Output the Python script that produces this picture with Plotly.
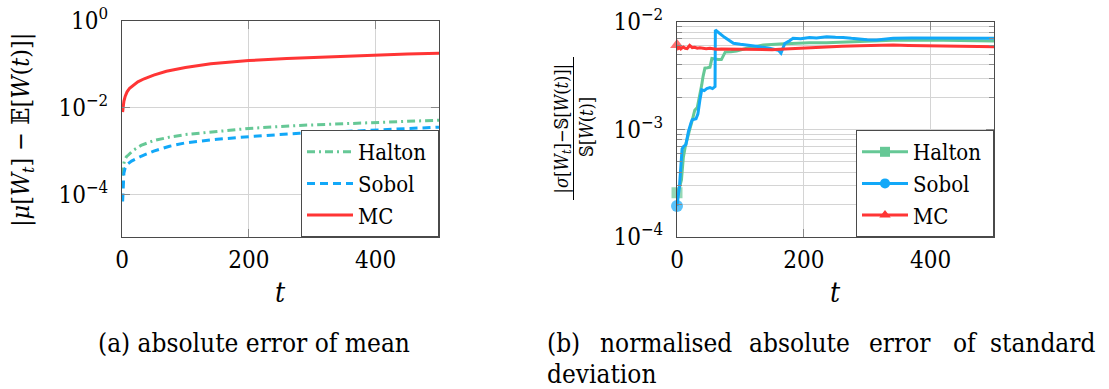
import plotly.graph_objects as go

W, H = 1109, 389

# ---------------- data: (a) absolute error of mean ----------------
t_mc_a = [1, 2, 3, 5, 8, 12, 18, 25, 35, 50, 70, 100, 140, 200, 260, 330, 400, 450, 500]
mc_a = [0.0081, 0.0115, 0.0142, 0.0185, 0.0235, 0.0285, 0.034, 0.040, 0.047, 0.057,
        0.070, 0.085, 0.104, 0.123, 0.138, 0.152, 0.166, 0.174, 0.182]

t_halton_a = [1, 2, 4, 7, 10, 18, 30, 50, 75, 100, 150, 200, 280, 350, 420, 500]
halton_a = [2.8e-4, 4.5e-4, 6.3e-4, 7.6e-4, 8.3e-4, 1.07e-3, 1.38e-3, 1.78e-3, 2.14e-3,
            2.45e-3, 2.88e-3, 3.39e-3, 3.98e-3, 4.37e-3, 4.79e-3, 5.25e-3]

t_sobol_a = [1, 2, 3, 5, 8, 15, 30, 50, 75, 100, 150, 200, 280, 350, 420, 500]
sobol_a = [7.1e-5, 1.78e-4, 3.16e-4, 4.17e-4, 5.01e-4, 6.03e-4, 7.76e-4, 1.02e-3, 1.32e-3,
           1.58e-3, 1.91e-3, 2.19e-3, 2.63e-3, 2.88e-3, 3.24e-3, 3.63e-3]

# ---------------- data: (b) normalised abs. error of std ----------------
t_halton_b = [0, 4, 7, 10, 13, 16, 20, 23, 26, 28, 32, 36, 39, 41, 44, 48, 52, 55, 60, 65,
              70, 76, 85, 94, 110, 136, 162, 188, 209, 236, 262, 288, 315, 340, 393, 446, 500]
halton_b = [2.58e-4, 2.9e-4, 3.39e-4, 5.5e-4, 6.92e-4, 8.3e-4, 1.0e-3, 1.15e-3, 1.32e-3,
            1.51e-3, 1.6e-3, 2.04e-3, 2.6e-3, 3.09e-3, 3.72e-3, 3.75e-3, 3.80e-3, 4.57e-3,
            4.5e-3, 4.47e-3, 4.47e-3, 5.25e-3, 5.3e-3, 5.37e-3, 5.7e-3, 6.11e-3, 6.24e-3,
            6.34e-3, 6.4e-3, 6.4e-3, 6.5e-3, 6.56e-3, 6.7e-3, 6.75e-3, 6.8e-3, 6.75e-3, 6.65e-3]

t_sobol_b = [0, 4, 8, 10, 14, 16, 18, 22, 24, 30, 33, 36, 39, 43, 47, 52, 56, 60, 60.5, 75,
             89, 100, 110, 125, 146, 160, 164, 166, 170, 176, 183, 195, 209, 220, 236, 250,
             262, 275, 288, 300, 315, 330, 341, 370, 393, 420, 446, 470, 500]
sobol_b = [1.94e-4, 3.0e-4, 6.6e-4, 6.92e-4, 7.24e-4, 8.5e-4, 9.55e-4, 1.15e-3, 1.23e-3,
           1.26e-3, 1.4e-3, 1.86e-3, 2.34e-3, 2.30e-3, 2.40e-3, 2.45e-3, 2.40e-3, 2.51e-3,
           8.43e-3, 7.2e-3, 6.34e-3, 6.2e-3, 6.11e-3, 5.95e-3, 5.69e-3, 5.45e-3, 5.13e-3,
           5.5e-3, 6.3e-3, 6.6e-3, 7.05e-3, 7.0e-3, 7.19e-3, 7.1e-3, 7.29e-3, 7.2e-3,
           7.19e-3, 7.05e-3, 6.9e-3, 6.85e-3, 6.8e-3, 6.9e-3, 7.05e-3, 7.1e-3, 7.1e-3,
           7.05e-3, 7.1e-3, 7.05e-3, 7.05e-3]

t_mc_b = [0, 2, 4, 6, 8, 10, 13, 16, 20, 24, 28, 32, 36, 41, 46, 52, 58, 62, 70, 80, 94, 105,
          115, 125, 136, 150, 162, 175, 183, 199, 215, 236, 260, 288, 315, 341, 365, 393, 420,
          446, 475, 500]
mc_b = [6.11e-3, 5.69e-3, 5.80e-3, 5.62e-3, 5.75e-3, 5.86e-3, 5.70e-3, 5.66e-3, 6.05e-3,
        5.78e-3, 5.82e-3, 5.70e-3, 5.76e-3, 5.69e-3, 5.64e-3, 5.70e-3, 5.60e-3, 5.57e-3,
        5.62e-3, 5.60e-3, 5.57e-3, 5.62e-3, 5.55e-3, 5.58e-3, 5.50e-3, 5.52e-3, 5.57e-3,
        5.62e-3, 5.69e-3, 5.78e-3, 5.82e-3, 5.89e-3, 5.95e-3, 6.00e-3, 6.05e-3, 6.11e-3,
        6.05e-3, 6.00e-3, 5.95e-3, 5.89e-3, 5.92e-3, 5.89e-3]

series_names = ["Halton", "Sobol", "MC"]
x_ticks = [0, 200, 400]
y_ticks_a = [1, 1e-2, 1e-4]
y_ticktext_a = ["10<sup>0</sup>", "10<sup>−2</sup>", "10<sup>−4</sup>"]
y_ticks_b = [1e-2, 1e-3, 1e-4]
y_ticktext_b = ["10<sup>−2</sup>", "10<sup>−3</sup>", "10<sup>−4</sup>"]
y_minor_b = [2e-4, 3e-4, 4e-4, 5e-4, 6e-4, 7e-4, 8e-4, 9e-4,
             2e-3, 3e-3, 4e-3, 5e-3, 6e-3, 7e-3, 8e-3, 9e-3]

# ---------------- styling ----------------
C_HALTON = "#66c896"
C_SOBOL = "#12a8f8"
C_MC = "#ff3535"
FONT = "DejaVu Serif Condensed, DejaVu Serif"
GRID = "#d4d4d4"
FRAME = "#4a4a4a"
TICKC = "#8a8a8a"

def px(x):
    return x / W

def py(y):
    return 1 - y / H

fig = go.Figure()

fig.add_trace(go.Scatter(x=t_halton_a, y=halton_a, name=series_names[0] + "\u00a0", mode="lines",
                         line=dict(color=C_HALTON, width=3, dash="8px,4px,2px,4px"),
                         xaxis="x", yaxis="y", legend="legend"))
fig.add_trace(go.Scatter(x=t_sobol_a, y=sobol_a, name=series_names[1] + "\u00a0", mode="lines",
                         line=dict(color=C_SOBOL, width=3, dash="8px,5px"),
                         xaxis="x", yaxis="y", legend="legend"))
fig.add_trace(go.Scatter(x=t_mc_a, y=mc_a, name=series_names[2] + "\u00a0", mode="lines",
                         line=dict(color=C_MC, width=3),
                         xaxis="x", yaxis="y", legend="legend"))

def first_only(n, s):
    return [s] + [0] * (n - 1)

for tt, vv, col, sym, sz in [(t_halton_b, halton_b, C_HALTON, "square", 11),
                             (t_sobol_b, sobol_b, C_SOBOL, "circle", 12),
                             (t_mc_b, mc_b, C_MC, "triangle-up", 12)]:
    fig.add_trace(go.Scatter(x=tt, y=vv, mode="lines+markers", showlegend=False,
                             line=dict(color=col, width=3),
                             marker=dict(color=col, symbol=sym, size=first_only(len(tt), sz),
                                         line=dict(width=0)),
                             cliponaxis=False, xaxis="x2", yaxis="y2"))
for name, col, sym in zip(series_names, [C_HALTON, C_SOBOL, C_MC], ["square", "circle", "triangle-up"]):
    fig.add_trace(go.Scatter(x=[None], y=[None], name=name + "\u00a0", mode="lines+markers",
                             line=dict(color=col, width=3),
                             marker=dict(color=col, symbol=sym, size=10),
                             xaxis="x2", yaxis="y2", legend="legend2"))

tickfont = dict(family=FONT, size=24, color="black")
common_x = dict(range=[0, 500], tickmode="array", tickvals=x_ticks, showgrid=True,
                gridcolor=GRID, gridwidth=1, showline=True, linecolor=FRAME, linewidth=1,
                mirror="ticks", ticks="inside", ticklen=8, tickcolor=TICKC,
                tickfont=tickfont, zeroline=False, ticklabelstandoff=1, automargin=False)
common_y = dict(type="log", tickmode="array", showgrid=True, gridcolor=GRID, gridwidth=1,
                showline=True, linecolor=FRAME, linewidth=1, mirror="ticks", ticks="inside",
                ticklen=8, tickcolor=TICKC, tickfont=tickfont, zeroline=False,
                ticklabelstandoff=8, automargin=False)

legend_common = dict(xanchor="right", yanchor="bottom", bgcolor="white",
                     bordercolor=FRAME, borderwidth=1,
                     font=dict(family=FONT, size=22, color="black"),
                     itemwidth=46, tracegroupgap=0)

fig.update_layout(
    width=W, height=H, margin=dict(l=0, r=0, t=0, b=0, pad=0, autoexpand=False),
    paper_bgcolor="white", plot_bgcolor="white",
    font=dict(family=FONT),
    xaxis=dict(domain=[px(122), px(439)], anchor="y", **common_x),
    yaxis=dict(domain=[py(237), py(21)], anchor="x", range=[-4.966, 0],
               tickvals=y_ticks_a, ticktext=y_ticktext_a, **common_y),
    xaxis2=dict(domain=[px(677), px(994)], anchor="y2", **common_x),
    yaxis2=dict(domain=[py(237), py(22)], anchor="x2", range=[-4, -2],
                tickvals=y_ticks_b, ticktext=y_ticktext_b,
                minor=dict(tickmode="array", tickvals=y_minor_b, showgrid=True,
                           gridcolor=GRID, gridwidth=1, ticks="inside", ticklen=5,
                           tickcolor=TICKC),
                **common_y),
    legend=dict(x=px(439), y=py(237), **legend_common),
    legend2=dict(x=px(994), y=py(237), **legend_common),
    showlegend=True,
)

ann = []
def add_text(text, x, y, size, xanchor="center", angle=0, family=FONT):
    ann.append(dict(text=text, x=px(x), y=py(y), xref="paper", yref="paper",
                    xanchor=xanchor, yanchor="middle", textangle=angle,
                    showarrow=False, font=dict(family=family, size=size, color="black")))

add_text("<i>t</i>", 280, 292, 28)
add_text("<i>t</i>", 835, 292, 28)
add_text("|<i>μ</i>[<i>W<sub>t</sub></i>] − 𝔼[<i>W</i>(<i>t</i>)]|", 22, 130, 25, angle=-90)
add_text("|<i>σ</i>[<i>W<sub>t</sub></i>]−𝕊[<i>W</i>(<i>t</i>)]|", 562, 128.5, 18, angle=-90)
add_text("𝕊[<i>W</i>(<i>t</i>)]", 586, 127, 18, angle=-90)
add_text("(a) absolute error of mean", 254, 343, 26)
cap_words = ["(b)", "normalised", "absolute", "error", "of", "standard"]
cap_x = [545, 665.5, 799.7, 899.6, 965, 1097]
cap_anchor = ["left", "center", "center", "center", "center", "right"]
for wd, xx, aa in zip(cap_words, cap_x, cap_anchor):
    add_text(wd, xx, 343, 26, xanchor=aa)
add_text("deviation", 545, 374, 26, xanchor="left")
fig.update_layout(annotations=ann)

fig.add_shape(type="line", xref="paper", yref="paper", x0=px(573.5), x1=px(573.5),
              y0=py(57), y1=py(200), line=dict(color="black", width=1))

fig.write_html("out.html")
